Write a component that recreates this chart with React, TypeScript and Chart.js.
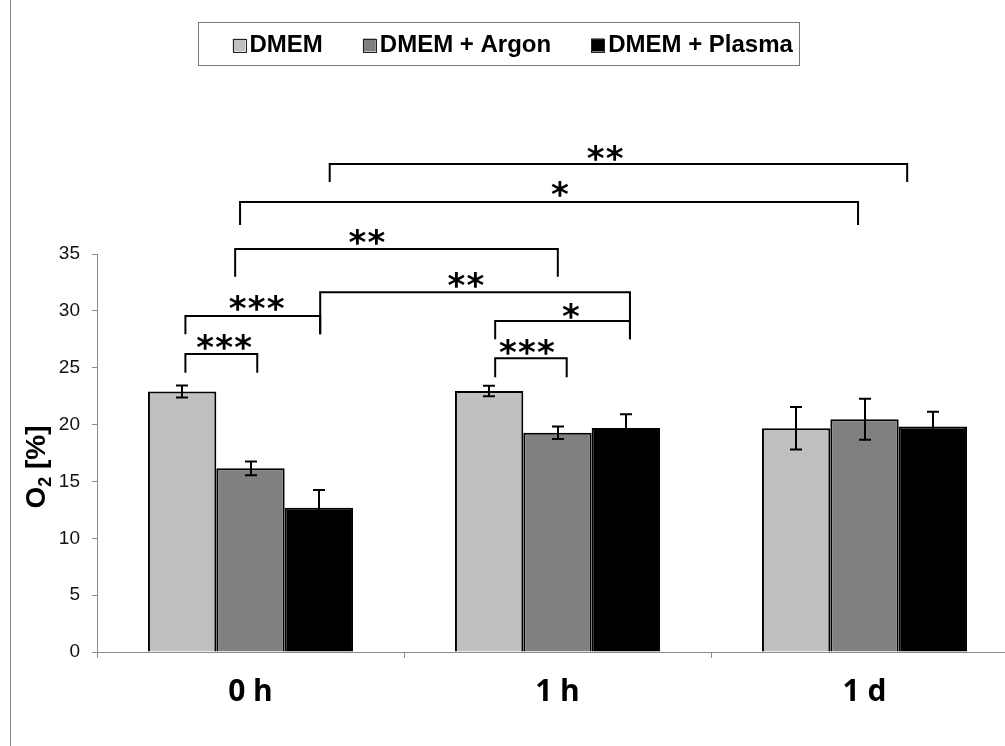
import React, { useEffect, useRef } from 'react';
import { Chart, registerables } from 'chart.js';
Chart.register(...registerables);

const categories = ['0 h', '1 h', '1 d'];
const seriesNames = ['DMEM', 'DMEM + Argon', 'DMEM + Plasma'];
const seriesColors = ['#c0c0c0', '#808080', '#000000'];
const dmemValues = [22.9, 22.95, 19.67];
const argonValues = [16.15, 19.29, 20.46];
const plasmaValues = [12.69, 19.7, 19.82];
const dmemErrors = [0.53, 0.47, 1.87];
const argonErrors = [0.6, 0.55, 1.8];
const plasmaErrors = [1.55, 1.2, 1.3];
const yTicks = [0, 5, 10, 15, 20, 25, 30, 35];
const yTitleMain = 'O';
const yTitleSub = '2';
const yTitleRest = ' [%]';

// significance brackets (x in category units, y in O2 % units)
const bracketLabels = ['***', '***', '**', '*', '***', '**', '*', '**'];
const bracketStart = [-0.212, -0.212, 0.227, 0.797, 0.797, -0.05, -0.034, 0.258];
const bracketEnd = [0.022, 0.227, 1.236, 1.236, 1.03, 1.001, 1.979, 2.139];
const bracketLevel = [26.21, 29.55, 31.63, 29.11, 25.83, 35.44, 39.57, 42.92];
const bracketStartFoot = [24.56, 27.94, 27.94, 27.5, 24.16, 33.0, 37.55, 41.33];
const bracketEndFoot = [24.56, 27.94, 27.5, 27.5, 24.16, 33.0, 37.55, 41.33];
const starX = [-0.086, 0.02, 0.702, 1.044, 0.9, 0.379, 1.008, 1.155];
const starY = [27.24, 30.67, 32.72, 30.02, 26.85, 36.5, 40.72, 43.88];

const seriesValues = [dmemValues, argonValues, plasmaValues];
const seriesErrors = [dmemErrors, argonErrors, plasmaErrors];

const overlayPlugin = {
  id: 'overlay',
  afterDatasetsDraw(chart: any) {
    const ctx = chart.ctx;
    const xs = chart.scales.x;
    const ys = chart.scales.y;
    const x0 = xs.getPixelForValue(0);
    const step = xs.getPixelForValue(1) - x0;
    const xp = (v: number) => x0 + v * step;
    ctx.save();
    // error bars
    ctx.strokeStyle = '#000';
    ctx.lineWidth = 2;
    seriesValues.forEach((vals, i) => {
      const meta = chart.getDatasetMeta(i);
      vals.forEach((v, j) => {
        const bar = meta.data[j];
        const e = seriesErrors[i][j];
        const t = ys.getPixelForValue(v + e);
        const b = ys.getPixelForValue(v - e);
        const cx = Math.round(bar.x);
        ctx.beginPath();
        ctx.moveTo(cx, t);
        ctx.lineTo(cx, b);
        ctx.moveTo(cx - 6, t);
        ctx.lineTo(cx + 6, t);
        ctx.moveTo(cx - 6, b);
        ctx.lineTo(cx + 6, b);
        ctx.stroke();
      });
    });
    // brackets
    ctx.lineWidth = 2;
    bracketLabels.forEach((lab, k) => {
      const a = xp(bracketStart[k]);
      const b = xp(bracketEnd[k]);
      const y = ys.getPixelForValue(bracketLevel[k]);
      ctx.beginPath();
      ctx.moveTo(a, ys.getPixelForValue(bracketStartFoot[k]));
      ctx.lineTo(a, y);
      ctx.lineTo(b, y);
      ctx.lineTo(b, ys.getPixelForValue(bracketEndFoot[k]));
      ctx.stroke();
      ctx.fillStyle = '#000';
      ctx.font = 'bold 34px "DejaVu Sans"';
      ctx.textAlign = 'center';
      ctx.textBaseline = 'alphabetic';
      const m = ctx.measureText('*');
      const cy = ys.getPixelForValue(starY[k]);
      const off = (m.actualBoundingBoxAscent - m.actualBoundingBoxDescent) / 2;
      const pitch = 19;
      const cx = xp(starX[k]);
      for (let s = 0; s < lab.length; s++) {
        const sx = cx + (s - (lab.length - 1) / 2) * pitch;
        ctx.fillText('*', sx, cy + off);
      }
    });
    ctx.restore();
  },
  afterDraw(chart: any) {
    const ctx = chart.ctx;
    ctx.save();
    // left frame line
    ctx.strokeStyle = '#8a8a8a';
    ctx.lineWidth = 1;
    ctx.beginPath();
    ctx.moveTo(10.5, 0);
    ctx.lineTo(10.5, chart.height);
    ctx.stroke();
    // legend box
    const bx = 198.5, by = 22.5, bw = 601, bh = 43;
    ctx.strokeStyle = '#777';
    ctx.strokeRect(bx, by, bw, bh);
    ctx.font = 'bold 24px "Liberation Sans", Arial, sans-serif';
    ctx.textBaseline = 'middle';
    ctx.textAlign = 'left';
    const sq = 13, sgap = 4, gap = 40;
    const widths = seriesNames.map((n) => ctx.measureText(n).width);
    let lx = bx + 34;
    const cy = by + bh / 2 + 1;
    seriesNames.forEach((n, i) => {
      ctx.fillStyle = seriesColors[i];
      ctx.fillRect(lx, cy - sq / 2, sq, sq);
      ctx.strokeStyle = '#222';
      ctx.lineWidth = 1;
      ctx.strokeRect(Math.round(lx) + 0.5, Math.round(cy - sq / 2) + 0.5, sq, sq);
      ctx.fillStyle = '#000';
      ctx.fillText(n, lx + sq + sgap, cy);
      lx += sq + sgap + widths[i] + gap;
    });
    // y axis title with subscript
    ctx.translate(35, 467);
    ctx.rotate(-Math.PI / 2);
    ctx.fillStyle = '#000';
    ctx.textBaseline = 'alphabetic';
    const fMain = 'bold 28px "Liberation Sans", Arial, sans-serif';
    const fSub = 'bold 18px "Liberation Sans", Arial, sans-serif';
    ctx.font = fMain;
    const wO = ctx.measureText(yTitleMain).width;
    const wR = ctx.measureText(yTitleRest).width;
    ctx.font = fSub;
    const wS = ctx.measureText(yTitleSub).width;
    const tot = wO + wS + wR;
    let tx = -tot / 2;
    const base = 10;
    ctx.font = fMain;
    ctx.fillText(yTitleMain, tx, base);
    tx += wO;
    ctx.font = fSub;
    ctx.fillText(yTitleSub, tx, base + 6);
    tx += wS;
    ctx.font = fMain;
    ctx.fillText(yTitleRest, tx, base);
    ctx.restore();
  },
};

export default function App() {
  const ref = useRef<HTMLCanvasElement | null>(null);
  useEffect(() => {
    if (!ref.current) return;
    const chart = new Chart(ref.current, {
      type: 'bar',
      data: {
        labels: categories,
        datasets: seriesNames.map((n, i) => ({
          label: n,
          data: seriesValues[i],
          backgroundColor: seriesColors[i],
          borderColor: '#000',
          borderWidth: 2,
          categoryPercentage: 0.668,
          barPercentage: 1.0,
        })),
      },
      options: {
        responsive: false,
        animation: false,
        devicePixelRatio: 1,
        layout: { padding: { top: 254, right: 12, left: 0, bottom: 0 } },
        plugins: { legend: { display: false }, tooltip: { enabled: false } },
        scales: {
          x: {
            grid: { drawOnChartArea: false, tickLength: 6, color: '#8a8a8a', offset: true },
            border: { color: '#8a8a8a', width: 1 },
            ticks: {
              color: '#000',
              padding: 16,
              font: { family: '"Open Sans"', size: 30, weight: 'bold' },
            },
            afterFit: (s: any) => { s.height = 94; },
          },
          y: {
            min: 0,
            max: 35,
            grid: { drawOnChartArea: false, tickLength: 5, color: '#8a8a8a' },
            border: { color: '#8a8a8a', width: 1 },
            ticks: {
              color: '#111',
              padding: 12,
              font: { family: '"Liberation Sans", Arial', size: 19 },
            },
            afterBuildTicks: (s: any) => { s.ticks = yTicks.map((v) => ({ value: v })); },
            afterFit: (s: any) => { s.width = 97; },
          },
        },
      },
      plugins: [overlayPlugin],
    });
    return () => chart.destroy();
  }, []);
  return (
    <div style={{ position: 'absolute', left: 0, top: 0, width: 1005, height: 746, overflow: 'hidden', background: '#fff' }}>
      <canvas ref={ref} width={1030} height={746} style={{ display: 'block' }} />
    </div>
  );
}
